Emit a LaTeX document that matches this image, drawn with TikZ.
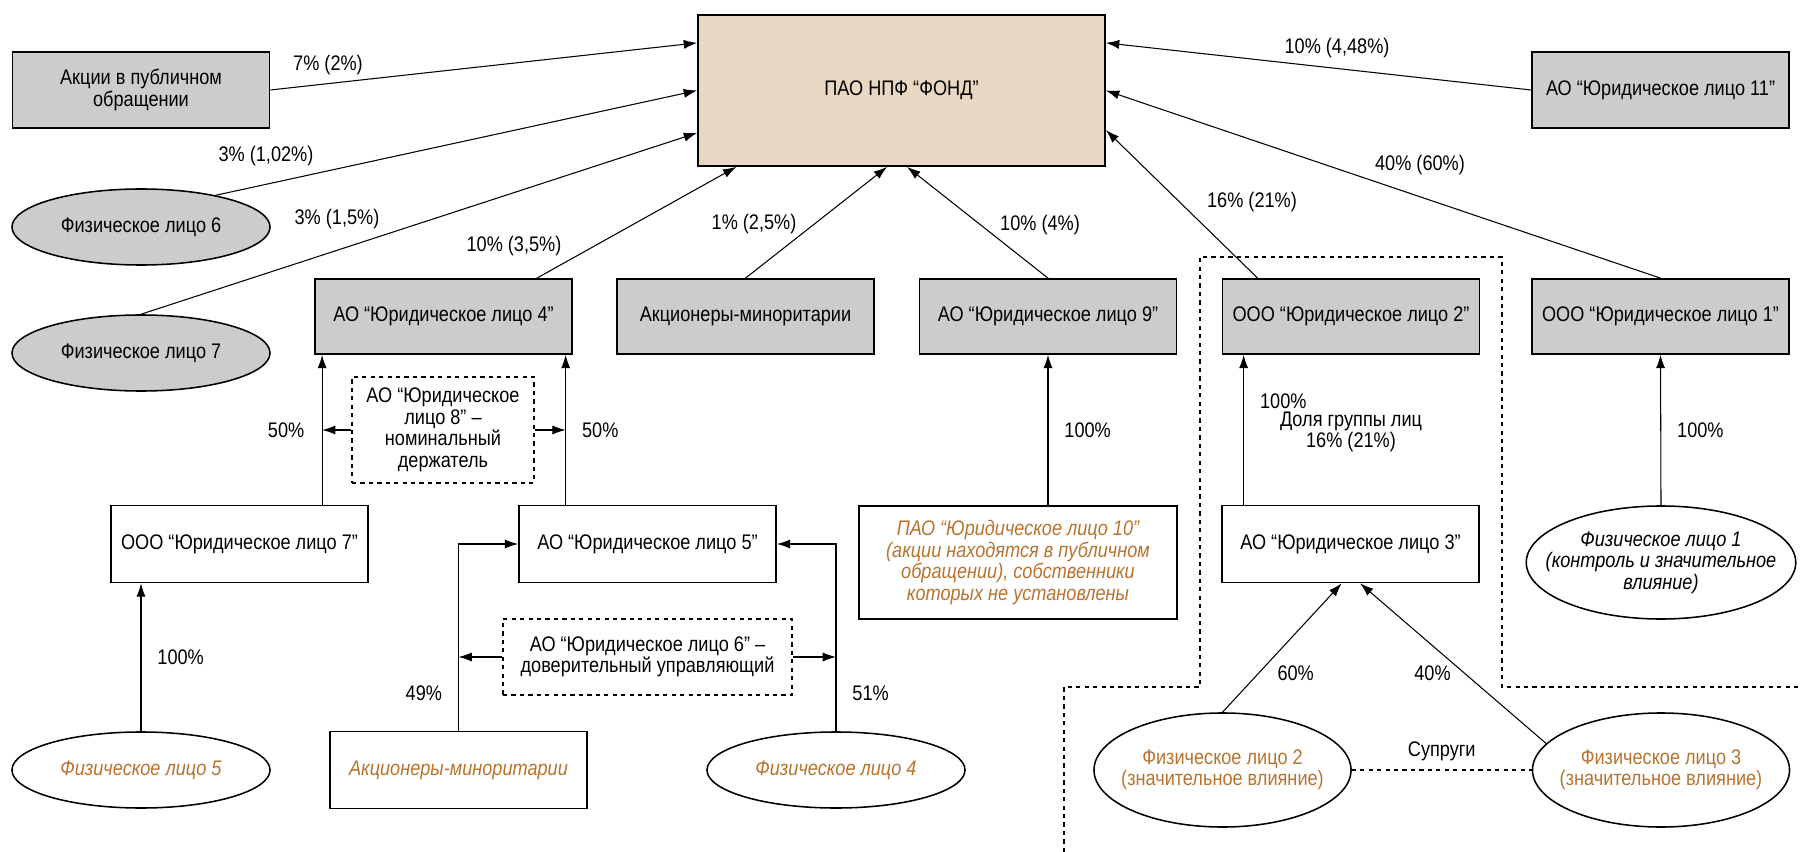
\documentclass[tikz,border=0pt]{standalone}
\usepackage{fontspec}
\setmainfont{Liberation Sans}[FakeStretch=0.86]
\usepackage{tikz}
\usetikzlibrary{calc}
\usetikzlibrary{arrows.meta,shapes.geometric,positioning}
\usepackage{xcolor}
\definecolor{boxgrey}{RGB}{204,204,204}
\definecolor{fondbg}{RGB}{232,215,194}
\definecolor{ownertxt}{RGB}{184,115,46}

\tikzset{
    box/.style={draw, line width=1.2pt, minimum width=6.425cm, minimum height=1.875cm, inner sep=0pt, align=center},
    oval/.style={draw, ellipse, line width=1.1pt, minimum width=6.45cm, minimum height=1.9cm, inner sep=0pt, align=center},
    holder/.style={draw, dashed, line width=0.8pt, inner sep=0pt, align=center},
    arr/.style={-{Latex[length=9.5pt,width=6.5pt]}, line width=0.75pt},
    lbl/.style={inner sep=0pt},
    owner/.style={text=ownertxt, font=\fontsize{15}{15.3}\selectfont\itshape}
}

\begin{document}
\begin{tikzpicture}[x=0.025cm, y=-0.025cm, font=\fontsize{15}{15.3}\selectfont]
        \useasboundingbox (0,0) rectangle (1800,852);

        % Fund and top row
        \node[box, fill=fondbg, minimum width=10.175cm, minimum height=3.775cm] (fond) at (901.5,90.5) {ПАО НПФ “ФОНД”};
        \node[box, fill=boxgrey, minimum height=1.9cm] (akcii) at (141,90) {Акции в публичном\\обращении};
        \node[box, fill=boxgrey, minimum height=1.9cm] (ul11) at (1660.5,90) {АО “Юридическое лицо 11”};
        \node[oval, fill=boxgrey] (fiz6) at (141,227) {Физическое лицо 6};
        \node[oval, fill=boxgrey] (fiz7) at (141,353) {Физическое лицо 7};

        % Shareholders row
        \node[box, fill=boxgrey] (ul4) at (443.5,316.5) {АО “Юридическое лицо 4”};
        \node[box, fill=boxgrey] (minor) at (745.5,316.5) {Акционеры-миноритарии};
        \node[box, fill=boxgrey] (ul9) at (1048,316.5) {АО “Юридическое лицо 9”};
        \node[box, fill=boxgrey] (ul2) at (1351,316.5) {ООО “Юридическое лицо 2”};
        \node[box, fill=boxgrey] (ul1) at (1660.5,316.5) {ООО “Юридическое лицо 1”};

        % Second level
        \node[holder, minimum width=4.55cm, minimum height=2.65cm] (ul8) at (443,430) {АО “Юридическое\\лицо 8” –\\номинальный\\держатель};
        \node[box, minimum height=1.925cm] (ul7) at (239.5,544) {ООО “Юридическое лицо 7”};
        \node[box, minimum height=1.925cm] (ul5) at (647.5,544) {АО “Юридическое лицо 5”};
        \node[box, owner, minimum width=7.95cm, minimum height=2.825cm] (ul10) at (1018,562.5) {ПАО “Юридическое лицо 10”\\(акции находятся в публичном\\обращении), собственники\\которых не установлены};
        \node[box, minimum height=1.925cm] (ul3) at (1350.5,544) {АО “Юридическое лицо 3”};
        \node[oval, font=\fontsize{15}{15.3}\selectfont\itshape, inner xsep=-0.5cm, minimum width=6.4cm, minimum height=2.825cm] (fiz1) at (1661,562.5) {Физическое лицо 1\\(контроль и значительное\\влияние)};
        \node[holder, minimum width=7.225cm, minimum height=1.9cm] (ul6) at (647.5,657) {АО “Юридическое лицо 6” –\\доверительный управляющий};

        % Bottom row
        \node[oval, owner] (fiz5) at (141,770) {Физическое лицо 5};
        \node[box, owner, minimum height=1.925cm] (minor2) at (458.5,770) {Акционеры-миноритарии};
        \node[oval, owner] (fiz4) at (836,770) {Физическое лицо 4};
        \node[oval, text=ownertxt, inner xsep=-0.5cm, minimum width=6.425cm, minimum height=2.85cm] (fiz2) at (1222.5,770) {Физическое лицо 2\\(значительное влияние)};
        \node[oval, text=ownertxt, inner xsep=-0.5cm, minimum width=6.425cm, minimum height=2.85cm] (fiz3) at (1661,770) {Физическое лицо 3\\(значительное влияние)};

        % Shares in the fund
        \draw[arr] (akcii.east) -- ([yshift=1.19cm]fond.west);
        \draw[arr] (fiz6.23) -- (fond.west);
        \draw[arr] (fiz7.north) -- ([yshift=-1.06cm]fond.west);
        \draw[arr] ([xshift=-0.9cm]ul4.north east) -- ([xshift=0.98cm]fond.south west);
        \draw[arr] (minor.north) -- ([xshift=-0.36cm]fond.south);
        \draw[arr] (ul9.north) -- ([xshift=0.14cm]fond.south);
        \draw[arr] ([xshift=0.9cm]ul2.north west) -- ([yshift=-0.99cm]fond.east);
        \draw[arr] (ul1.north) -- (fond.east);
        \draw[arr] (ul11.west) -- ([yshift=1.19cm]fond.east);

        \node[lbl] (p1) at (328,65) {7\% (2\%)};
        \node[lbl] (p2) at (266,156) {3\% (1,02\%)};
        \node[lbl] (p3) at (337,219) {3\% (1,5\%)};
        \node[lbl] (p4) at (514,246) {10\% (3,5\%)};
        \node[lbl] (p5) at (754,224) {1\% (2,5\%)};
        \node[lbl] (p6) at (1040,225) {10\% (4\%)};
        \node[lbl] (p7) at (1252,202) {16\% (21\%)};
        \node[lbl] (p8) at (1420,165) {40\% (60\%)};
        \node[lbl] (p9) at (1337,48) {10\% (4,48\%)};

        % Owners of the second level
        \coordinate (l4) at ([xshift=0.2cm]ul4.south west);
        \coordinate (r4) at ([xshift=-0.18cm]ul4.south east);
        \draw[arr] (ul7.north -| l4) -- (l4) node[midway, left=9pt] (p10) {50\%};
        \draw[arr] (ul5.north -| r4) -- (r4) node[midway, right=8pt] (p11) {50\%};
        \draw[arr] (ul8.west) -- (ul8.west -| l4);
        \draw[arr] (ul8.east) -- (ul8.east -| r4);

        \draw[arr] (fiz5.north) -- (fiz5.north |- ul7.south) node[midway, right=8pt] (p12) {100\%};
        \draw[arr] (minor2.north) |- (ul5.west) node[pos=0.1, left=8pt] (p13) {49\%};
        \draw[arr] (fiz4.north) |- (ul5.east) node[pos=0.1, right=8pt] (p14) {51\%};
        \draw[arr] (ul6.west) -- (ul6.west -| minor2.north);
        \draw[arr] (ul6.east) -- (ul6.east -| fiz4.north);

        \draw[arr] (ul10.north -| ul9.south) -- (ul9.south) node[midway, right=8pt] (p15) {100\%};
        \coordinate (l2) at ([xshift=0.55cm]ul2.south west);
        \draw[arr] (ul3.north -| l2) -- (l2) node[pos=0.69, right=8pt] (p16) {100\%};
        \node[align=center] (dolya) at (1351,432) {Доля группы лиц\\16\% (21\%)};
        \draw[arr] (fiz1.north) -- (ul1.south) node[midway, right=8pt] (p17) {100\%};

        \draw[arr] (fiz2.north) -- ([xshift=-0.22cm]ul3.south) node[pos=0.3, right=10pt] (p18) {60\%};
        \draw[arr] (fiz3.167) -- ([xshift=0.24cm]ul3.south) node[pos=0.44, left=6pt] (p19) {40\%};
        \draw[dashed, line width=0.75pt] (fiz2.east) -- (fiz3.west) node[midway, above=3pt] (supr) {Супруги};

        % Group of persons
        \draw[dashed, line width=0.8pt] (1064,852) -- (1064,687) -- (1200,687) -- (1200,257) -- (1502,257) -- (1502,687) -- (1800,687);

\end{tikzpicture}
\end{document}
